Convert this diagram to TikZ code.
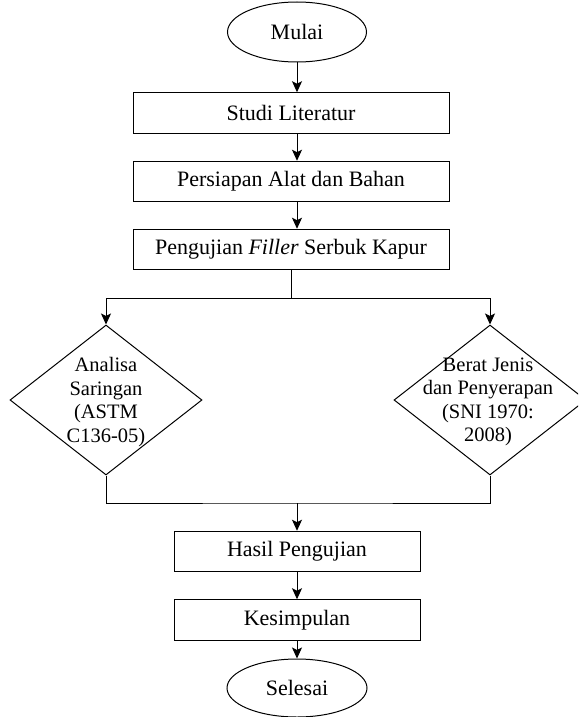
\documentclass[tikz,border=0pt]{standalone}
\usepackage{fontspec}
\setmainfont{Liberation Serif}
\usetikzlibrary{shapes.geometric,arrows.meta}
\begin{document}
\begin{tikzpicture}[x=1pt,y=-1pt,
  every node/.style={font=\fontsize{22}{25}\selectfont, inner sep=0pt},
  box/.style={draw, rectangle, line width=1pt, minimum height=40.5pt},
  term/.style={draw, ellipse, line width=1pt, minimum width=139pt, minimum height=60pt},
  dia/.style={draw, diamond, line width=1pt, minimum width=192pt, minimum height=150pt, aspect=1.28},
  dtext/.style={align=center, font=\fontsize{20.5}{23.5}\selectfont},
  conn/.style={line width=1pt},
  arr/.style={line width=1pt, -{Stealth[length=11pt,width=10pt,inset=2.5pt]}}]
\clip (0,0) rectangle (578,717);
\fill[white] (0,0) rectangle (578,717);
\node[term] (mulai) at (297,32) {Mulai};
\node[box, minimum width=316pt] (studi) at (291,113) {Studi Literatur};
\node[box, minimum width=316pt] (persiapan) at (291,181.5) {Persiapan Alat dan Bahan};
\node[box, minimum width=316pt] (uji) at (291,249.5) {Pengujian \textit{Filler} Serbuk Kapur};
\node[dia] (kiri) at (106,400) {};
\node[dtext] (kiritext) at (106,402) {Analisa\\Saringan\\(ASTM\\C136-05)};
\node[dia] (kanan) at (490,400) {};
\node[dtext] (kanantext) at (488,402) {Berat Jenis\\dan Penyerapan\\(SNI 1970:\\2008)};
\node[box, minimum width=246pt] (hasil) at (297,551.5) {Hasil Pengujian};
\node[box, minimum width=246pt] (kesimpulan) at (297,620) {Kesimpulan};
\node[term, minimum width=140pt, minimum height=58pt] (selesai) at (297,688) {Selesai};
\coordinate (split) at (291,298);
\coordinate (merge) at (297,503);
\draw[arr] (mulai.south) -- (studi.north -| mulai.south);
\draw[arr] (studi.south -| mulai.south) -- (persiapan.north -| mulai.south);
\draw[arr] (persiapan.south -| mulai.south) -- (uji.north -| mulai.south);
\draw[conn] (uji.south) -- (split);
\draw[arr] (split) -| (kiri.north);
\draw[arr] (split) -| (kanan.north);
\draw[conn] (kiri.south) |- (merge) -| (kanan.south);
\draw[arr] (merge) -- (hasil.north);
\draw[arr] (hasil.south) -- (kesimpulan.north);
\draw[arr] (kesimpulan.south) -- (selesai.north);
\end{tikzpicture}
\end{document}
